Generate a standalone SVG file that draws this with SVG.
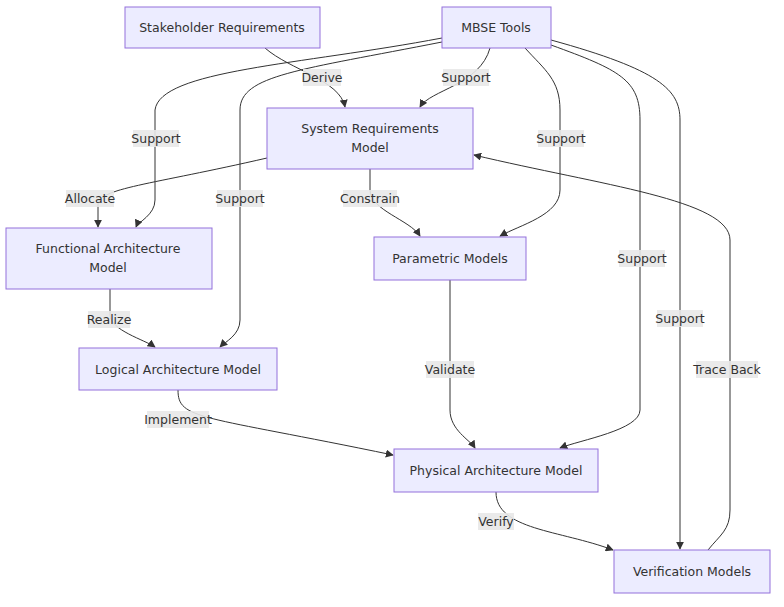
<svg xmlns="http://www.w3.org/2000/svg" width="784" height="607" viewBox="0 0 784 607">
<defs>
<style>
.n rect{fill:#ECECFF;stroke:#9370DB;stroke-width:1}
text{font-family:"DejaVu Sans","Liberation Sans",sans-serif;font-size:12.5px;fill:#333;text-anchor:middle;dominant-baseline:central}
.e path{fill:none;stroke:#333;stroke-width:1;marker-end:url(#a)}
.l rect{fill:#e8e8e8;opacity:0.9}
</style>
<marker id="a" viewBox="0 0 10 10" refX="9" refY="5" markerWidth="8" markerHeight="8" orient="auto"><path d="M0,0L10,5L0,10z" fill="#333"/></marker>
</defs>
<rect width="784" height="607" fill="#fff"/>
<g id="edges" class="e">
<path d="M265,48C290,70 340,80 345,107"/>
<path d="M490,48C480,85 430,90 420,107"/>
<path d="M442,38C300,65 160,70 155,110L155,200C155,215 138,222 136,227"/>
<path d="M442,42C300,70 240,75 240,110L240,320C240,335 225,342 220,347"/>
<path d="M525,48C545,70 560,80 560,110L560,190C560,215 520,225 500,236"/>
<path d="M551,45C620,70 640,80 640,120L640,410C640,430 580,440 560,448"/>
<path d="M551,40C660,70 680,90 680,120L680,549"/>
<path d="M267,158C150,185 98,188 98,205L98,227"/>
<path d="M370,169L370,190C370,210 410,220 420,236"/>
<path d="M110,289L110,315C110,330 145,340 155,347"/>
<path d="M450,280L450,410C450,430 470,440 475,448"/>
<path d="M178,390C178,420 200,415 393,455"/>
<path d="M496,492C496,530 560,530 613,550"/>
<path d="M708,550C720,535 730,530 730,510L730,240C730,200 600,185 474,155"/>
</g>
<g class="l">
<rect x="303" y="69" width="38" height="17"/><text x="322" y="77">Derive</text>
<rect x="443" y="69" width="46" height="17"/><text x="466" y="77">Support</text>
<rect x="133" y="130" width="46" height="17"/><text x="156" y="138">Support</text>
<rect x="217" y="190" width="46" height="17"/><text x="240" y="198">Support</text>
<rect x="538" y="130" width="46" height="17"/><text x="561" y="138">Support</text>
<rect x="619" y="250" width="46" height="17"/><text x="642" y="258">Support</text>
<rect x="657" y="310" width="46" height="17"/><text x="680" y="318">Support</text>
<rect x="66" y="190" width="48" height="17"/><text x="90" y="198">Allocate</text>
<rect x="343" y="190" width="54" height="17"/><text x="370" y="198">Constrain</text>
<rect x="88" y="311" width="42" height="17"/><text x="109" y="319">Realize</text>
<rect x="426" y="361" width="48" height="17"/><text x="450" y="369">Validate</text>
<rect x="147" y="411" width="62" height="17"/><text x="178" y="419">Implement</text>
<rect x="478" y="513" width="36" height="17"/><text x="496" y="521">Verify</text>
<rect x="696" y="361" width="62" height="17"/><text x="727" y="369">Trace Back</text>
</g>
<g id="n1" class="n"><rect x="125" y="7" width="195" height="41"/><text x="222" y="27">Stakeholder Requirements</text></g>
<g id="n2" class="n"><rect x="442" y="7" width="109" height="41"/><text x="496" y="27">MBSE Tools</text></g>
<g id="n3" class="n"><rect x="267" y="108" width="206" height="61"/><text x="370" y="128">System Requirements</text><text x="370" y="147">Model</text></g>
<g id="n4" class="n"><rect x="6" y="228" width="206" height="61"/><text x="108" y="248">Functional Architecture</text><text x="108" y="267">Model</text></g>
<g id="n5" class="n"><rect x="374" y="237" width="152" height="43"/><text x="450" y="258">Parametric Models</text></g>
<g id="n6" class="n"><rect x="79" y="348" width="198" height="42"/><text x="178" y="369">Logical Architecture Model</text></g>
<g id="n7" class="n"><rect x="394" y="449" width="204" height="43"/><text x="496" y="470">Physical Architecture Model</text></g>
<g id="n8" class="n"><rect x="614" y="550" width="156" height="43"/><text x="692" y="571">Verification Models</text></g>
</svg>
